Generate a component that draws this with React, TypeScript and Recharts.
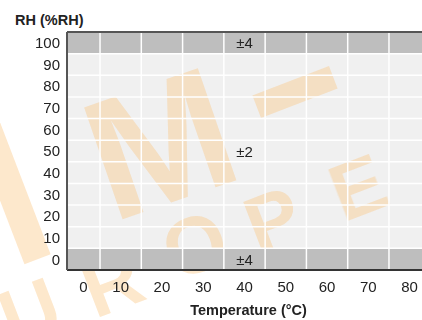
import {
  ComposedChart,
  ReferenceArea,
  ReferenceLine,
  Scatter,
  XAxis,
  YAxis,
} from "recharts";

// temperature (°C) and relative humidity (%RH) axes
const TEMP_TICKS = [0, 10, 20, 30, 40, 50, 60, 70, 80];
const TEMP_GRID = [5, 15, 25, 35, 45, 55, 65, 75];
const TEMP_RANGE = [-3, 83];

const RH_TICKS = [0, 10, 20, 30, 40, 50, 60, 70, 80, 90, 100];
const RH_GRID = [5, 15, 25, 35, 45, 55, 65, 75, 85, 95];
const RH_RANGE = [-5, 105];

// accuracy bands (%RH) and where their tolerance is written
const BAND_FROM = [-5, 5, 95];
const BAND_TO = [5, 95, 105];
const BAND_LABEL = ["±4", "±2", "±4"];
const BAND_LABEL_RH = [0, 50, 100];
const BAND_LABEL_TEMP = 40;

const FONT = '"Liberation Sans", Arial, sans-serif';
const INK = "#222";
const W = 422;
const H = 320;

const bands = BAND_FROM.map((from, i) => ({ from, to: BAND_TO[i] }));
const labelPoints = BAND_LABEL.map((text, i) => ({
  t: BAND_LABEL_TEMP,
  rh: BAND_LABEL_RH[i],
  text,
}));

function BandText(props: any) {
  const { cx, cy, payload } = props;
  return (
    <text
      x={cx}
      y={cy}
      textAnchor="middle"
      dominantBaseline="central"
      fill={INK}
      fontSize={15}
      fontFamily={FONT}
    >
      {payload.text}
    </text>
  );
}

// first column is cut by the y axis, so its label sits a bit to the right
function TempTick(props: any) {
  const { x, y, payload, index } = props;
  return (
    <text
      x={x + (index === 0 ? 4 : 0)}
      y={y}
      dy="0.71em"
      textAnchor="middle"
      fill={INK}
      fontSize={15}
      fontFamily={FONT}
    >
      {payload.value}
    </text>
  );
}

function Watermark() {
  const letters = [
    { ch: "U", x: 30, y: 312 },
    { ch: "R", x: 112, y: 283 },
    { ch: "O", x: 195, y: 245 },
    { ch: "P", x: 273, y: 220 },
    { ch: "E", x: 358, y: 187 },
  ];
  return (
    <svg width={W} height={H} style={{ position: "absolute", left: 0, top: 0 }}>
      <g fill="#fbc57f" opacity={0.4} fontFamily={FONT} fontWeight="bold">
        <rect x={-8} y={90} width={28} height={175} transform="rotate(-21 6 177)" />
        <text
          x={160}
          y={143}
          fontSize={172}
          textAnchor="middle"
          dominantBaseline="central"
          transform="rotate(-19 160 143)"
        >
          M
        </text>
        <rect x={254} y={80} width={82} height={24} transform="rotate(-21 295 92)" />
        {letters.map((l) => (
          <text
            key={l.ch}
            x={l.x}
            y={l.y}
            fontSize={80}
            textAnchor="middle"
            dominantBaseline="central"
            transform={`rotate(-21 ${l.x} ${l.y})`}
          >
            {l.ch}
          </text>
        ))}
      </g>
    </svg>
  );
}

// same frame for both layers so the scales line up
function Frame({ bare, children }: { bare?: boolean; children: React.ReactNode }) {
  return (
    <ComposedChart width={W} height={H} margin={{ top: 32, right: 0, bottom: 0, left: 0 }}>
      <XAxis
        xAxisId="grid"
        type="number"
        dataKey="t"
        domain={TEMP_RANGE}
        allowDataOverflow
        ticks={TEMP_GRID}
        interval={0}
        tick={false}
        tickSize={3}
        tickLine={bare ? false : { stroke: "#222", strokeWidth: 2 }}
        axisLine={false}
        height={0}
      />
      <XAxis
        type="number"
        dataKey="t"
        domain={TEMP_RANGE}
        allowDataOverflow
        ticks={TEMP_TICKS}
        interval={0}
        tickLine={false}
        tickSize={0}
        tickMargin={11}
        axisLine={bare ? false : { stroke: "#333", strokeWidth: 2 }}
        tick={bare ? false : TempTick}
        height={50}
        label={
          bare
            ? undefined
            : {
                value: "Temperature (°C)",
                position: "insideBottom",
                offset: 5,
                dx: 4,
                fill: INK,
                fontSize: 14.5,
                fontWeight: "bold",
              }
        }
      />
      <YAxis
        type="number"
        dataKey="rh"
        domain={RH_RANGE}
        allowDataOverflow
        ticks={RH_TICKS}
        interval={0}
        width={67}
        tickLine={false}
        tickSize={0}
        tickMargin={7}
        axisLine={bare ? false : { stroke: "#555", strokeWidth: 2 }}
        tick={bare ? false : { fill: INK, fontSize: 15 }}
      />
      {children}
      <Scatter
        data={labelPoints}
        dataKey="rh"
        shape={bare ? () => null : BandText}
        isAnimationActive={false}
      />
    </ComposedChart>
  );
}

export default function App() {
  return (
    <div
      style={{
        position: "absolute",
        left: 0,
        top: 0,
        width: W,
        height: H,
        background: "#fff",
        fontFamily: FONT,
        overflow: "hidden",
      }}
    >
      {/* light ±2 area under the watermark */}
      <div style={{ position: "absolute", left: 0, top: 0 }}>
        <Frame bare>
          <ReferenceArea
            y1={BAND_FROM[1]}
            y2={BAND_TO[1]}
            x1={TEMP_RANGE[0]}
            x2={TEMP_RANGE[1]}
            fill="#f0f0f0"
            fillOpacity={1}
            stroke="none"
          />
        </Frame>
      </div>
      <Watermark />
      <div
        style={{
          position: "absolute",
          left: 15,
          top: 12,
          fontSize: 14.5,
          fontWeight: "bold",
          color: INK,
        }}
      >
        RH (%RH)
      </div>
      <div style={{ position: "absolute", left: 0, top: 0 }}>
        <Frame>
          {bands
            .filter((_, i) => i !== 1)
            .map((b, i) => (
              <ReferenceArea
                key={i}
                y1={b.from}
                y2={b.to}
                x1={TEMP_RANGE[0]}
                x2={TEMP_RANGE[1]}
                fill="#bebebe"
                fillOpacity={1}
                stroke="none"
              />
            ))}
          {TEMP_GRID.map((t) => (
            <ReferenceLine key={`x${t}`} x={t} stroke="#fff" strokeWidth={1.5} />
          ))}
          {RH_GRID.map((v) => (
            <ReferenceLine key={`y${v}`} y={v} stroke="#fff" strokeWidth={1.5} />
          ))}
          <ReferenceLine y={RH_RANGE[1]} stroke="#555" strokeWidth={2} />
        </Frame>
      </div>
    </div>
  );
}
